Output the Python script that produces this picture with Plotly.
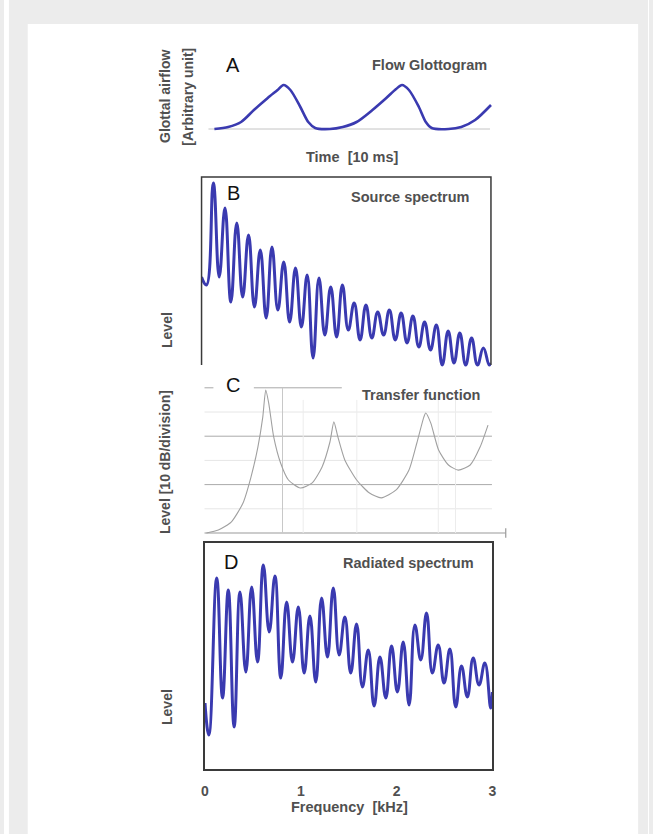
import plotly.graph_objects as go

W, H = 653, 834


def px(x):
    return x / W


def py(y):
    return 1 - y / H


# ---------------- data ----------------
# Panel A: flow glottogram (time in ms, flow in arbitrary units)
flow_time_ms = [0, 0.96, 1.85, 2.74, 3.70, 4.38, 4.79, 5.27, 5.96, 6.51, 6.99,
                8.01, 8.90, 9.86, 10.96, 11.92, 12.60, 13.01, 13.49, 14.18, 14.66,
                15.07, 16.23, 17.12, 18.08, 19.18]
flow_level = [0, 2, 7, 19, 31, 39, 44, 39, 22, 7, 1,
              0, 2, 7, 19, 31, 40, 44, 39, 22, 7,
              1, 0, 2, 9, 24]
period_arrow_ms = [4.73, 14.73]

# Harmonic frequencies (kHz) and the dips between them
harmonic_khz = [0.122, 0.243, 0.365, 0.487, 0.609, 0.730, 0.852, 0.974, 1.095, 1.217,
                1.339, 1.460, 1.582, 1.704, 1.826, 1.947, 2.069, 2.191, 2.312, 2.434,
                2.556, 2.677, 2.799, 2.921]
dip_khz = [0.183, 0.304, 0.426, 0.548, 0.670, 0.791, 0.913, 1.035, 1.156, 1.278,
           1.400, 1.521, 1.643, 1.765, 1.887, 2.008, 2.130, 2.252, 2.373, 2.495,
           2.617, 2.738, 2.860, 2.982]

# Panel B: source spectrum levels (arbitrary)
source_start_khz = [0.0, 0.05]
source_start_level = [88, 80]
source_peak_level = [182, 157, 142, 130, 115, 118, 103, 97, 90, 87,
                     78, 80, 62, 60, 53, 55, 52, 49, 43, 40,
                     34, 32, 27, 17]
source_dip_level = [88, 63, 68, 58, 47, 55, 43, 38, 7, 30,
                    28, 35, 25, 27, 30, 25, 22, 18, 15, 0,
                    2, 0, 0, 0]
source_end_khz = 3.0
source_end_level = 2

# Panel C: transfer function (kHz, dB)
transfer_khz = [0.02, 0.144, 0.278, 0.402, 0.485, 0.557, 0.608, 0.639, 0.67, 0.722,
                0.794, 0.876, 1.0, 1.124, 1.227, 1.309, 1.35, 1.392, 1.464, 1.588,
                1.722, 1.845, 2.0, 2.134, 2.216, 2.289, 2.309, 2.361, 2.443, 2.546,
                2.649, 2.773, 2.876, 2.959]
transfer_db = [0, 1.2, 4.5, 12.4, 23.1, 35.5, 47.9, 59.1, 53.7, 39.7,
               28.9, 21.9, 18.6, 20.7, 27.3, 37.6, 45.9, 39.7, 30.2, 21.9,
               16.5, 14.5, 17.8, 26.0, 37.2, 47.9, 49.6, 45.5, 34.3, 28.1,
               26.0, 28.1, 35.5, 44.6]

# Panel D: radiated spectrum levels (arbitrary)
radiated_start_khz = [0.0, 0.04]
radiated_start_level = [66, 34]
radiated_peak_level = [191, 179, 177, 182, 204, 193, 167, 162, 153, 171,
                       181, 152, 145, 119, 112, 123, 127, 144, 156, 124,
                       120, 103, 111, 106]
radiated_dip_level = [71, 42, 97, 107, 137, 91, 107, 96, 87, 112,
                      114, 96, 82, 63, 71, 77, 64, 109, 96, 86,
                      62, 72, 84, 61]
radiated_end_khz = 3.0
radiated_end_level = 77

freq_ticks = [0, 1, 2, 3]


def interleave(start_x, start_y, px_, py_, dx, dy, end_x, end_y):
    xs, ys = list(start_x), list(start_y)
    for a, b, c, d in zip(px_, py_, dx, dy):
        xs += [a, c]
        ys += [b, d]
    xs.append(end_x)
    ys.append(end_y)
    return xs, ys


src_x, src_y = interleave(source_start_khz, source_start_level, harmonic_khz,
                          source_peak_level, dip_khz, source_dip_level,
                          source_end_khz, source_end_level)
rad_x, rad_y = interleave(radiated_start_khz, radiated_start_level, harmonic_khz,
                          radiated_peak_level, dip_khz, radiated_dip_level,
                          radiated_end_khz, radiated_end_level)

BLUE = "#3a3ab0"
LABEL = "#505050"
FONT = "Liberation Sans, Arial, sans-serif"

fig = go.Figure()
fig.add_trace(go.Scatter(x=flow_time_ms, y=flow_level, mode="lines",
                         line=dict(color=BLUE, width=2.6, shape="spline", smoothing=0.8),
                         xaxis="x", yaxis="y", hoverinfo="skip"))
fig.add_trace(go.Scatter(x=src_x, y=src_y, mode="lines",
                         line=dict(color=BLUE, width=3, shape="spline", smoothing=1.3),
                         xaxis="x2", yaxis="y2", hoverinfo="skip"))
fig.add_trace(go.Scatter(x=transfer_khz, y=transfer_db, mode="lines",
                         line=dict(color="#a0a0a0", width=1.1, shape="spline", smoothing=0.6),
                         xaxis="x3", yaxis="y3", hoverinfo="skip"))
fig.add_trace(go.Scatter(x=rad_x, y=rad_y, mode="lines",
                         line=dict(color=BLUE, width=3, shape="spline", smoothing=1.3),
                         xaxis="x4", yaxis="y4", hoverinfo="skip"))


def dom(zero_px, scale, lo, hi, vertical=False):
    if vertical:
        return [py(zero_px - lo * scale), py(zero_px - hi * scale)]
    return [px(zero_px + lo * scale), px(zero_px + hi * scale)]


hidden = dict(visible=False, showgrid=False, zeroline=False, fixedrange=True)

# axis mapping definitions
A_x = (213, 14.6, -0.4, 19.4)
A_y = (129, 1.0, -4, 48)
B_x = (200, 97.67, 0.0, 3.0)
B_y = (365, 1.0, -4, 190)
C_x = (203, 97.0, -0.15, 3.25)
C_y = (533, 2.42, -4, 63)
D_x = (203.5, 97.0, 0.0, 3.0)
D_y = (769, 1.0, 0, 226)

layout = dict(
    width=W, height=H, margin=dict(l=0, r=0, t=0, b=0),
    paper_bgcolor="#ececec", plot_bgcolor="rgba(0,0,0,0)",
    showlegend=False, font=dict(family=FONT),
    xaxis=dict(domain=dom(*A_x), range=A_x[2:], anchor="y", **hidden),
    yaxis=dict(domain=dom(*A_y, vertical=True), range=A_y[2:], anchor="x", **hidden),
    xaxis2=dict(domain=dom(*B_x), range=B_x[2:], anchor="y2", **hidden),
    yaxis2=dict(domain=dom(*B_y, vertical=True), range=B_y[2:], anchor="x2", **hidden),
    xaxis3=dict(domain=dom(*C_x), range=C_x[2:], anchor="y3", **hidden),
    yaxis3=dict(domain=dom(*C_y, vertical=True), range=C_y[2:], anchor="x3", **hidden),
    xaxis4=dict(domain=dom(*D_x), range=D_x[2:], anchor="y4",
                showgrid=False, zeroline=False, showline=True, mirror=True,
                linecolor="#3a3a3a", linewidth=1.5,
                tickmode="array", tickvals=freq_ticks, ticktext=[str(t) for t in freq_ticks],
                ticks="outside", ticklen=8, tickcolor="rgba(0,0,0,0)",
                tickfont=dict(size=14, color=LABEL, family=FONT, weight="bold"),
                fixedrange=True),
    yaxis4=dict(domain=dom(*D_y, vertical=True), range=D_y[2:], anchor="x4",
                showgrid=False, zeroline=False, showline=True, mirror=True,
                linecolor="#3a3a3a", linewidth=1.5, showticklabels=False,
                ticks="", fixedrange=True),
)
fig.update_layout(**layout)

shapes = []
# white page and side strips
shapes.append(dict(type="rect", xref="paper", yref="paper", x0=px(24), x1=px(642),
                   y0=py(834), y1=py(24), fillcolor="white", line=dict(width=0), layer="below"))
shapes.append(dict(type="rect", xref="paper", yref="paper", x0=0, x1=px(5),
                   y0=0, y1=1, fillcolor="white", line=dict(width=0), layer="below"))
shapes.append(dict(type="rect", xref="paper", yref="paper", x0=px(652), x1=1,
                   y0=0, y1=1, fillcolor="white", line=dict(width=0), layer="below"))
# panel A baseline
shapes.append(dict(type="line", xref="paper", yref="paper", x0=px(207), x1=px(492),
                   y0=py(129), y1=py(129), line=dict(color="#c4c4c4", width=1), layer="below"))
# panel B frame (left, top, right)
shapes.append(dict(type="path", xref="paper", yref="paper",
                   path=f"M {px(200)},{py(365)} L {px(200)},{py(177)} L {px(493)},{py(177)} L {px(493)},{py(365)}",
                   line=dict(color="#3a3a3a", width=1.5)))
# panel C grid
for lvl, col in [(10, "#e6e6e6"), (30, "#e6e6e6"), (50, "#e6e6e6"),
                 (20, "#aaaaaa"), (40, "#aaaaaa")]:
    shapes.append(dict(type="line", xref="x3", yref="y3", x0=0, x1=3.0, y0=lvl, y1=lvl,
                       line=dict(color=col, width=1), layer="below"))
shapes.append(dict(type="line", xref="x3", yref="y3", x0=0, x1=3.144, y0=0, y1=0,
                   line=dict(color="#9a9a9a", width=1.2), layer="below"))
shapes.append(dict(type="line", xref="x3", yref="y3", x0=3.144, x1=3.144, y0=-2, y1=2,
                   line=dict(color="#9a9a9a", width=1.2), layer="below"))
shapes.append(dict(type="line", xref="x3", yref="y3", x0=0.515, x1=1.433, y0=60, y1=60,
                   line=dict(color="#a8a8a8", width=1), layer="below"))
shapes.append(dict(type="line", xref="x3", yref="y3", x0=0.0, x1=0.093, y0=60, y1=60,
                   line=dict(color="#a8a8a8", width=1), layer="below"))
shapes.append(dict(type="line", xref="x3", yref="y3", x0=0.814, x1=0.814, y0=0, y1=60,
                   line=dict(color="#c8c8c8", width=1), layer="below"))
for fx in [1.03, 1.59, 2.44, 2.62]:
    shapes.append(dict(type="line", xref="x3", yref="y3", x0=fx, x1=fx, y0=0, y1=55,
                       line=dict(color="#ececec", width=1), layer="below"))
fig.update_layout(shapes=shapes)


def ann(x, y, text, size=14, color=LABEL, bold=True, xanchor="center", angle=0):
    return dict(xref="paper", yref="paper", x=px(x), y=py(y), text=text,
                showarrow=False, xanchor=xanchor, yanchor="middle", textangle=angle,
                font=dict(size=size, color=color, family=FONT,
                          weight="bold" if bold else "normal"))


annotations = [
    ann(232, 65, "A", 20, "#111111", False),
    ann(491, 65, "Flow Glottogram", 14.5, xanchor="right"),
    ann(353, 157, "Time \u00a0[10 ms]", 14.5),
    ann(163, 97, "Glottal airflow", 14, angle=-90),
    ann(186, 97, "[Arbitrary unit]", 14, angle=-90),
    ann(232, 193, "B", 20, "#111111", False),
    ann(473, 197, "Source spectrum", 14.5, xanchor="right"),
    ann(165, 330, "Level", 14, angle=-90),
    ann(232, 385, "C", 20, "#111111", False),
    ann(484, 395, "Transfer function", 14.5, xanchor="right"),
    ann(163, 462, "Level [10 dB/division]", 14, angle=-90),
    ann(230, 562, "D", 20, "#111111", False),
    ann(478, 563, "Radiated spectrum", 14.5, xanchor="right"),
    ann(165, 707, "Level", 14, angle=-90),
    ann(350, 807, "Frequency \u00a0[kHz]", 14.5),
    dict(xref="x", yref="y", axref="x", ayref="y",
         x=period_arrow_ms[1], y=-7, ax=period_arrow_ms[0], ay=-7,
         text="", showarrow=True, arrowhead=2, startarrowhead=2,
         arrowside="end+start", arrowsize=1.3, startarrowsize=1.3,
         arrowwidth=1.3, arrowcolor="#111111"),
]
fig.update_layout(annotations=annotations)

fig.write_html("out.html")
